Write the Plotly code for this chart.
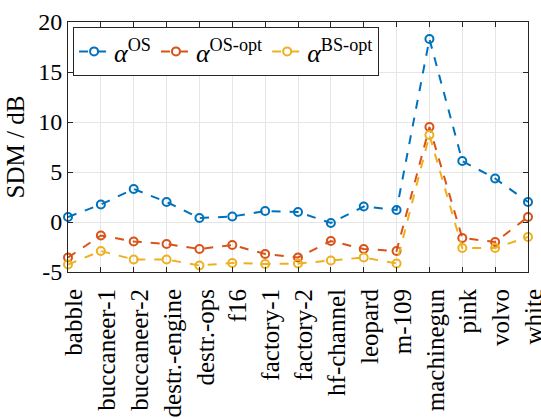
import plotly.graph_objects as go

categories = ["babble", "buccaneer-1", "buccaneer-2", "destr.-engine", "destr.-ops",
              "f16", "factory-1", "factory-2", "hf-channel", "leopard", "m-109",
              "machinegun", "pink", "volvo", "white"]

sdm_os = [0.5, 1.75, 3.3, 2.0, 0.4, 0.55, 1.1, 1.0, -0.1, 1.55, 1.2, 18.3, 6.1, 4.35, 2.0]
sdm_os_opt = [-3.55, -1.35, -1.95, -2.2, -2.7, -2.3, -3.2, -3.55, -1.9, -2.7, -2.9, 9.5, -1.6, -2.0, 0.5]
sdm_bs_opt = [-4.25, -2.9, -3.75, -3.75, -4.35, -4.1, -4.2, -4.15, -3.85, -3.55, -4.15, 8.7, -2.6, -2.6, -1.5]

series = [
    ("<i>α</i><sup>OS</sup>", sdm_os, "#0072BD"),
    ("<i>α</i><sup>OS-opt</sup>", sdm_os_opt, "#D95319"),
    ("<i>α</i><sup>BS-opt</sup>", sdm_bs_opt, "#EDB120"),
]

FONT = "Liberation Serif, DejaVu Serif, serif"
AXIS_COLOR = "#262626"

fig = go.Figure()
x_idx = list(range(len(categories)))
for name, vals, color in series:
    fig.add_trace(go.Scatter(
        x=x_idx, y=vals, name=name, mode="lines+markers",
        line=dict(color=color, width=2, dash="dash"),
        marker=dict(symbol="circle-open", size=8, color=color, line=dict(width=2, color=color)),
        cliponaxis=False,
    ))

axis_common = dict(
    showline=True, linecolor=AXIS_COLOR, linewidth=1, mirror="ticks",
    ticks="inside", ticklen=5, tickcolor=AXIS_COLOR,
    showgrid=True, gridcolor="#e6e6e6", gridwidth=1, zeroline=False,
    automargin=False,
)

fig.update_xaxes(
    tickmode="array", tickvals=x_idx, ticktext=categories, tickangle=-90,
    range=[0, len(categories) - 1], ticklabelshift=6, ticklabelstandoff=6,
    ticklabeloverflow="allow",
    tickfont=dict(family=FONT, size=25, color="#000"),
    **axis_common,
)
fig.update_yaxes(
    range=[-5, 20], tickvals=[-5, 0, 5, 10, 15, 20], ticktext=["-5", "0", "5", "10", "15", "20"],
    tickfont=dict(family=FONT, size=24, color="#000"),
    title=dict(text="SDM / dB", font=dict(family=FONT, size=25, color="#000"), standoff=6),
    **axis_common,
)

fig.update_layout(
    width=541, height=419,
    margin=dict(l=68, r=13, t=22, b=147),
    plot_bgcolor="white", paper_bgcolor="white",
    font=dict(family=FONT, size=20, color="#000"),
    legend=dict(
        orientation="h", x=0.011, y=0.98, xanchor="left", yanchor="top",
        bgcolor="white", bordercolor=AXIS_COLOR, borderwidth=1,
        font=dict(family=FONT, size=26), itemwidth=30, tracegroupgap=0,
    ),
)

fig.write_html("out.html")
